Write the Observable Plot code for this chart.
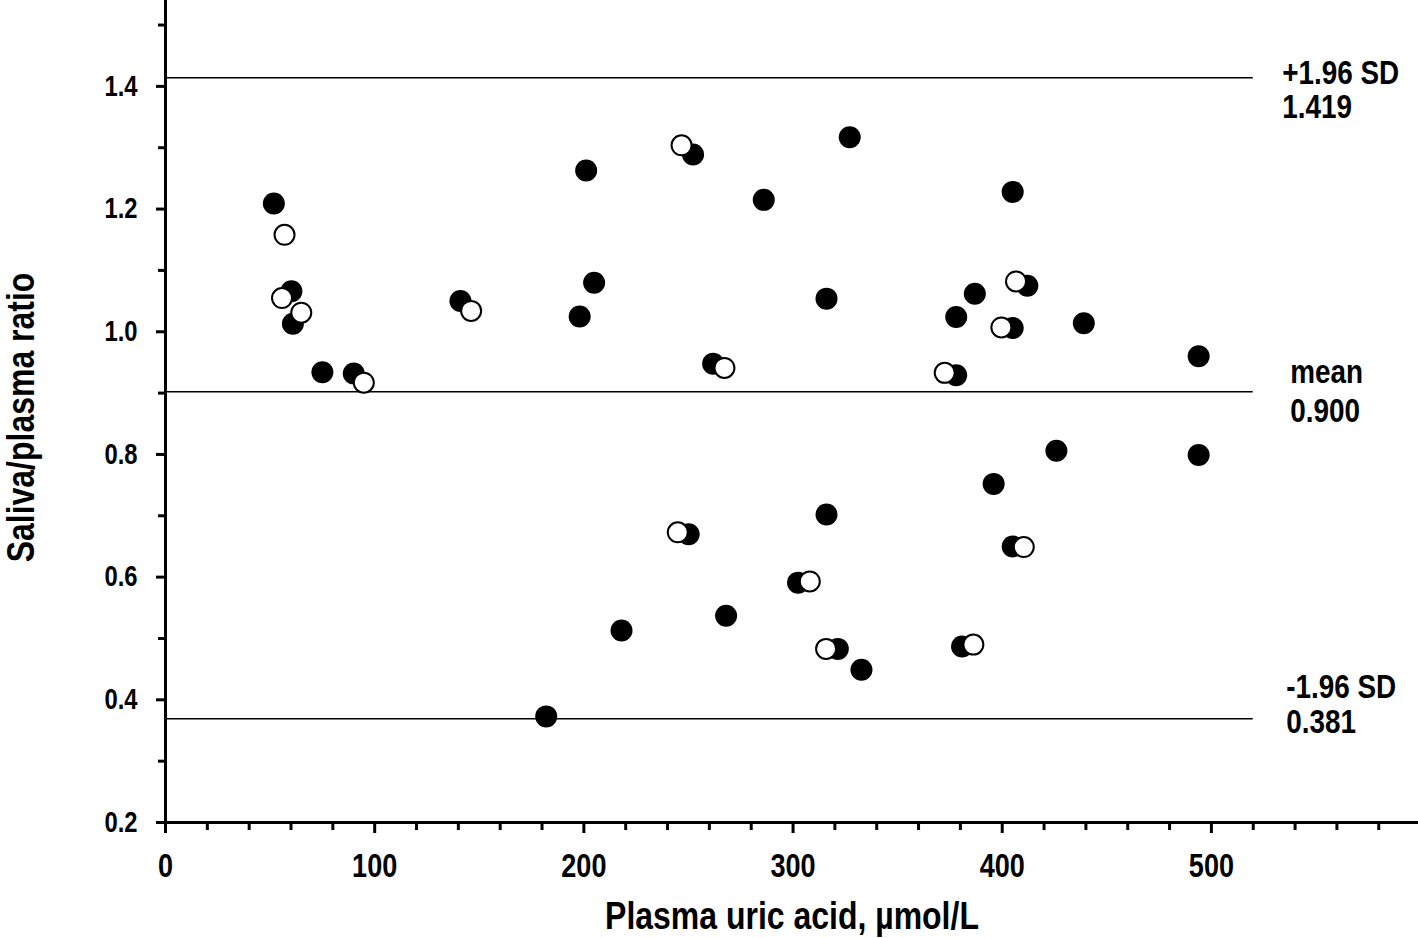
<!DOCTYPE html>
<html>
<head>
<meta charset="utf-8">
<script src="https://cdn.jsdelivr.net/npm/d3@7"></script>
<script src="https://cdn.jsdelivr.net/npm/@observablehq/plot@0.6"></script>
<style>
  html, body { margin: 0; padding: 0; background: #fff; overflow: hidden; }
</style>
</head>
<body>
<div id="chart"></div>
<script>
// Filled circles (series 1)
const filledX = [51.8, 60.2, 60.9, 75.0, 90.0, 141.0, 201.1, 204.9, 198.0, 252.2, 327.1, 286.0, 316.0, 261.8,
  405.0, 412.0, 386.9, 378.0, 405.0, 439.0, 493.9, 378.0, 182.0, 218.0, 250.1, 316.0, 268.0, 302.4, 321.4,
  332.7, 425.9, 493.9, 395.9, 405.0, 380.8];
const filledY = [1.209, 1.066, 1.013, 0.934, 0.932, 1.050, 1.263, 1.080, 1.025, 1.289, 1.317, 1.215, 1.054, 0.948,
  1.228, 1.075, 1.062, 1.024, 1.006, 1.014, 0.960, 0.929, 0.373, 0.513, 0.670, 0.702, 0.537, 0.591, 0.483,
  0.449, 0.806, 0.799, 0.752, 0.650, 0.487];
// Open circles (series 2)
const openX = [56.9, 55.7, 64.9, 94.8, 146.1, 246.7, 267.2, 406.6, 399.6, 372.5, 244.9, 308.0, 315.8, 410.3, 386.2];
const openY = [1.158, 1.055, 1.031, 0.917, 1.034, 1.304, 0.941, 1.082, 1.007, 0.933, 0.673, 0.593, 0.483, 0.649, 0.490];

// Reference lines (as drawn) and their labels
const refLineY = [1.414, 0.902, 0.369];
const refNames = ["+1.96 SD", "mean", "-1.96 SD"];
const refValues = ["1.419", "0.900", "0.381"];

// Axis ticks
const xMajor = [0, 100, 200, 300, 400, 500];
const xMinor = d3.range(20, 600, 20).filter(v => v % 100 !== 0);
const yMajor = [0.2, 0.4, 0.6, 0.8, 1.0, 1.2, 1.4];
const yMinor = [0.3, 0.5, 0.7, 0.9, 1.1, 1.3, 1.5];

const xTitle = "Plasma uric acid, µmol/L";
const yTitle = "Saliva/plasma ratio";

const filled = filledX.map((x, i) => ({x, y: filledY[i]}));
const open = openX.map((x, i) => ({x, y: openY[i]}));

const FONT = "'Liberation Sans', Arial, sans-serif";

// per-label offsets [dx, dyName, dyValue]
const labelOffsets = [[29, 6, 40], [37, -9, 30], [33, -21, 14]];
const labelMarks = refLineY.flatMap((ly, i) => [
  Plot.text([refNames[i]], {x: () => 520, y: () => ly, dx: labelOffsets[i][0], dy: labelOffsets[i][1],
    textAnchor: "start", lineAnchor: "bottom", fontSize: 34, fontWeight: "bold", fill: "black"}),
  Plot.text([refValues[i]], {x: () => 520, y: () => ly, dx: labelOffsets[i][0], dy: labelOffsets[i][2],
    textAnchor: "start", lineAnchor: "bottom", fontSize: 34, fontWeight: "bold", fill: "black"})
]);

const chart = Plot.plot({
  width: 1418,
  height: 938,
  marginLeft: 165,
  marginRight: 0,
  marginTop: 0,
  marginBottom: 116,
  style: {fontFamily: FONT, fontWeight: "bold", color: "black", background: "white", overflow: "visible"},
  x: {domain: [0, 599], label: null},
  y: {domain: [0.2, 1.54], label: null},
  marks: [
    // axes ticks
    Plot.axisX({ticks: xMajor, tickSize: 11, tickPadding: 20, strokeWidth: 3, fontSize: 33, tickFormat: d3.format("d"), label: null}),
    Plot.axisX({ticks: xMinor, tickSize: 8, strokeWidth: 3, tickFormat: () => "", label: null}),
    Plot.axisY({ticks: yMajor, tickSize: 9, tickPadding: 19, strokeWidth: 3, fontSize: 29, tickFormat: d3.format(".1f"), label: null}),
    Plot.axisY({ticks: yMinor, tickSize: 7, strokeWidth: 3, tickFormat: () => "", label: null}),
    // axis lines
    Plot.ruleX([0], {y1: 0.2, y2: 1.54, strokeWidth: 3, stroke: "black"}),
    Plot.ruleY([0.2], {x1: 0, x2: 599, strokeWidth: 3, stroke: "black"}),
    // reference lines
    Plot.ruleY(refLineY, {x1: 0, x2: 520, strokeWidth: 1.5, stroke: "black"}),
    ...labelMarks,
    // points
    Plot.dot(filled, {x: "x", y: "y", r: 11, fill: "black", stroke: "none"}),
    Plot.dot(open, {x: "x", y: "y", r: 10, fill: "white", stroke: "black", strokeWidth: 2}),
    // axis titles
    Plot.text([xTitle], {frameAnchor: "bottom", dy: 106, textAnchor: "middle", lineAnchor: "bottom", fontSize: 39, fontWeight: "bold", fill: "black"}),
    Plot.text([yTitle], {frameAnchor: "left", dx: -132, dy: 6, rotate: -90, textAnchor: "middle", lineAnchor: "bottom", fontSize: 39, fontWeight: "bold", fill: "black"})
  ]
});
// condense the text horizontally (narrow bold face like the original)
chart.querySelectorAll("text").forEach(t => {
  const tr = t.getAttribute("transform") || "";
  t.setAttribute("transform", (tr + " scale(0.82,1)").trim());
});
document.getElementById("chart").appendChild(chart);
</script>
</body>
</html>
